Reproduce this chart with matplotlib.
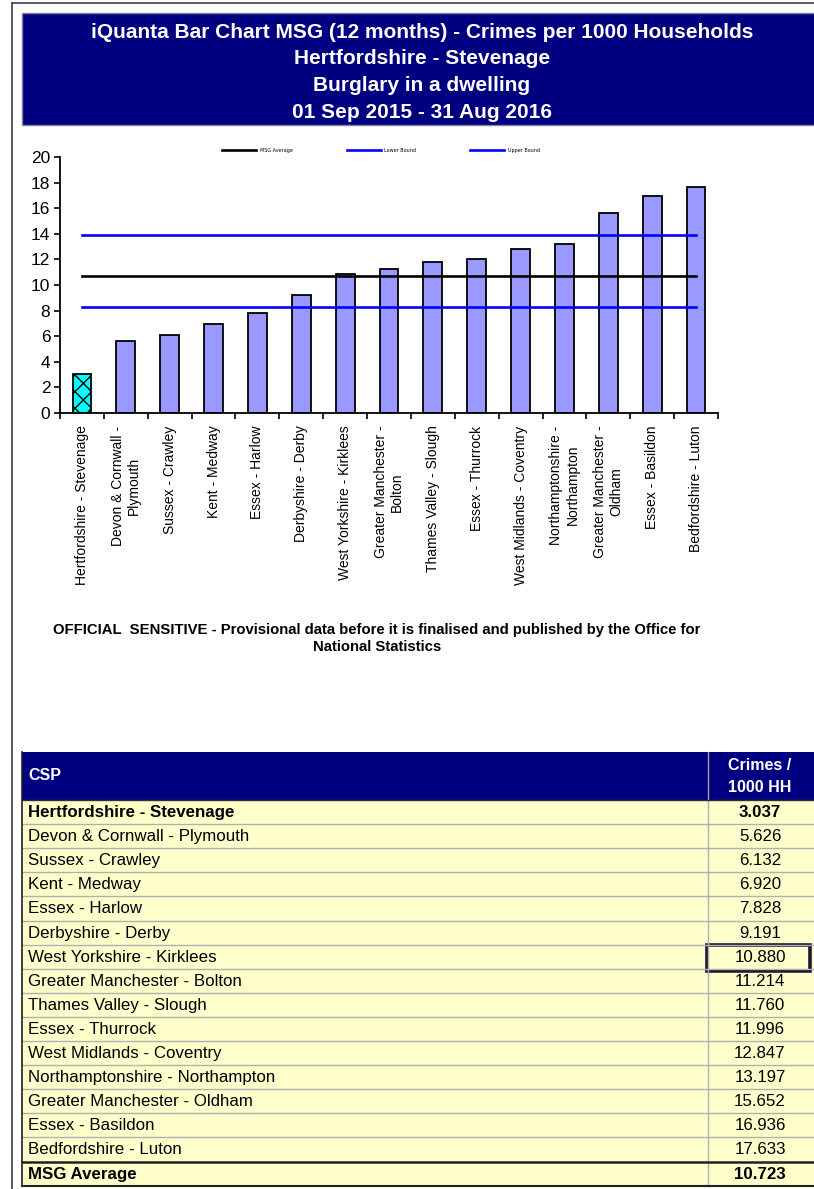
import matplotlib
matplotlib.use('Agg')
import matplotlib.pyplot as plt
from matplotlib.patches import Rectangle
import numpy as np

# data
areas = [
  'Hertfordshire - Stevenage', 'Devon & Cornwall - Plymouth', 'Sussex - Crawley',
  'Kent - Medway', 'Essex - Harlow', 'Derbyshire - Derby', 'West Yorkshire - Kirklees',
  'Greater Manchester - Bolton', 'Thames Valley - Slough', 'Essex - Thurrock',
  'West Midlands - Coventry', 'Northamptonshire - Northampton',
  'Greater Manchester - Oldham', 'Essex - Basildon', 'Bedfordshire - Luton',
]
tick_labels = [
  'Hertfordshire - Stevenage', 'Devon & Cornwall -\nPlymouth', 'Sussex - Crawley',
  'Kent - Medway', 'Essex - Harlow', 'Derbyshire - Derby', 'West Yorkshire - Kirklees',
  'Greater Manchester -\nBolton', 'Thames Valley - Slough', 'Essex - Thurrock',
  'West Midlands - Coventry', 'Northamptonshire -\nNorthampton',
  'Greater Manchester -\nOldham', 'Essex - Basildon', 'Bedfordshire - Luton',
]
rates = [3.037, 5.626, 6.132, 6.920, 7.828, 9.191, 10.880, 11.214, 11.760,
         11.996, 12.847, 13.197, 15.652, 16.936, 17.633]
msg_average = 10.723
lower_bound = 8.27
upper_bound = 13.93
title_lines = [
  'iQuanta Bar Chart MSG (12 months) - Crimes per 1000 Households',
  'Hertfordshire - Stevenage',
  'Burglary in a dwelling',
  '01 Sep 2015 - 31 Aug 2016',
]
note_lines = [
  'OFFICIAL  SENSITIVE - Provisional data before it is finalised and published by the Office for',
  'National Statistics',
]

W, H = 814, 1189
NAVY = '#000080'
BAR = '#9999FF'
SANS = ['Liberation Sans', 'DejaVu Sans']

fig = plt.figure(figsize=(W / 100, H / 100), dpi=100)

# page layer in pixel coordinates
bg = fig.add_axes([0, 0, 1, 1])
bg.set_xlim(0, W)
bg.set_ylim(H, 0)
bg.axis('off')

# outer frame
bg.plot([12, 12], [3, H], color='#404040', lw=1.2)
bg.plot([12, W], [3, 3], color='#404040', lw=1.2)

# title block
bg.add_patch(Rectangle((22, 13), W - 20, 112, facecolor=NAVY, edgecolor='#8080a0', lw=1))
for i, line in enumerate(title_lines):
  bg.text(422, 32 + i * 26.7, line, color='white', fontsize=15, fontweight='bold',
          family=SANS, ha='center', va='center')

# footnote
for i, line in enumerate(note_lines):
  bg.text(377, 630 + i * 17, line, fontsize=10.7, fontweight='bold', family=SANS,
          ha='center', va='center')

# ---- bar chart ----
ax = fig.add_axes([60 / W, 1 - 413 / H, 658 / W, 256 / H])
x = np.arange(len(rates))
colors = ['#00FFFF'] + [BAR] * (len(rates) - 1)
bars = ax.bar(x, rates, width=0.43, color=colors, edgecolor='black', linewidth=1.3, zorder=2)
bars[0].set_hatch('xx')
ax.plot(x, np.full(len(x), msg_average), color='black', lw=1.9, label='MSG Average', zorder=3)
ax.plot(x, np.full(len(x), lower_bound), color='#0000FF', lw=1.9, label='Lower Bound', zorder=3)
ax.plot(x, np.full(len(x), upper_bound), color='#0000FF', lw=1.9, label='Upper Bound', zorder=3)

ax.set_xlim(-0.5, len(rates) - 0.5)
ax.set_ylim(0, 20)
ax.set_yticks(np.arange(0, 21, 2))
ax.tick_params(axis='y', labelsize=12.5, length=4, width=1.2, pad=3)
ax.set_xticks(x)
ax.set_xticklabels(tick_labels, rotation=90, fontsize=10, family=SANS,
                   ha='center', va='top', multialignment='center')
ax.set_xticks(np.arange(-0.5, len(rates)), minor=True)
ax.tick_params(axis='x', which='major', length=0, pad=9)
ax.tick_params(axis='x', which='minor', length=4, width=1.2)
for s in ['top', 'right']:
  ax.spines[s].set_visible(False)
for s in ['left', 'bottom']:
  ax.spines[s].set_linewidth(1.3)
for lab in ax.get_yticklabels():
  lab.set_family(SANS)

ax.legend(loc='center', bbox_to_anchor=(0.488, 1.027), ncol=3, frameon=False,
          fontsize=3.5, handlelength=7, columnspacing=11, handletextpad=0.8)

# ---- table ----
tx0, tsplit = 22, 708
head_top, head_bot = 752, 800
row_h = 24.1
bg.add_patch(Rectangle((tx0, head_top), W - tx0, head_bot - head_top, facecolor=NAVY,
                       edgecolor='none'))
bg.plot([tsplit, tsplit], [head_top, head_bot], color='#a0a0a0', lw=1)
bg.text(28, 776, 'CSP', color='white', fontsize=11.5, fontweight='bold', family=SANS,
        va='center', ha='left')
bg.text(760, 765, 'Crimes /', color='white', fontsize=11.5, fontweight='bold', family=SANS,
        va='center', ha='center')
bg.text(760, 788, '1000 HH', color='white', fontsize=11.5, fontweight='bold', family=SANS,
        va='center', ha='center')

rows = list(zip(areas, rates)) + [('MSG Average', msg_average)]
n_rows = len(rows)
body_bot = head_bot + row_h * n_rows
bg.add_patch(Rectangle((tx0, head_bot), W - tx0, body_bot - head_bot, facecolor='#FFFFCC',
                       edgecolor='none'))
for i, (name, val) in enumerate(rows):
  y0 = head_bot + i * row_h
  bold = i == 0 or i == n_rows - 1
  fw = 'bold' if bold else 'normal'
  bg.text(28, y0 + row_h / 2 + 0.5, name, fontsize=12.2, fontweight=fw, family=SANS,
          va='center', ha='left')
  bg.text(760, y0 + row_h / 2 + 0.5, f'{val:.3f}', fontsize=12.2, fontweight=fw, family=SANS,
          va='center', ha='center')
  if 0 < i < n_rows - 1:
    bg.plot([tx0, W], [y0, y0], color='#b0b0b0', lw=1)
bg.plot([tsplit, tsplit], [head_bot, body_bot], color='#b0b0b0', lw=1)
bg.plot([tx0, W], [head_bot, head_bot], color='#303030', lw=1)
msg_top = head_bot + (n_rows - 1) * row_h
bg.plot([tx0, W], [msg_top, msg_top], color='#202020', lw=1.8)
bg.plot([tx0, W], [body_bot, body_bot], color='#202020', lw=1.5)
bg.plot([tx0, tx0], [head_top, body_bot], color='#202020', lw=1.2)

# highlighted cell (West Yorkshire - Kirklees)
hi = areas.index('West Yorkshire - Kirklees')
bg.add_patch(Rectangle((tsplit - 1, head_bot + hi * row_h + 0.5), W - tsplit - 3, row_h + 2,
                       facecolor='none', edgecolor='#1a1a33', lw=2.6))

fig.savefig('out.png', dpi=100)
